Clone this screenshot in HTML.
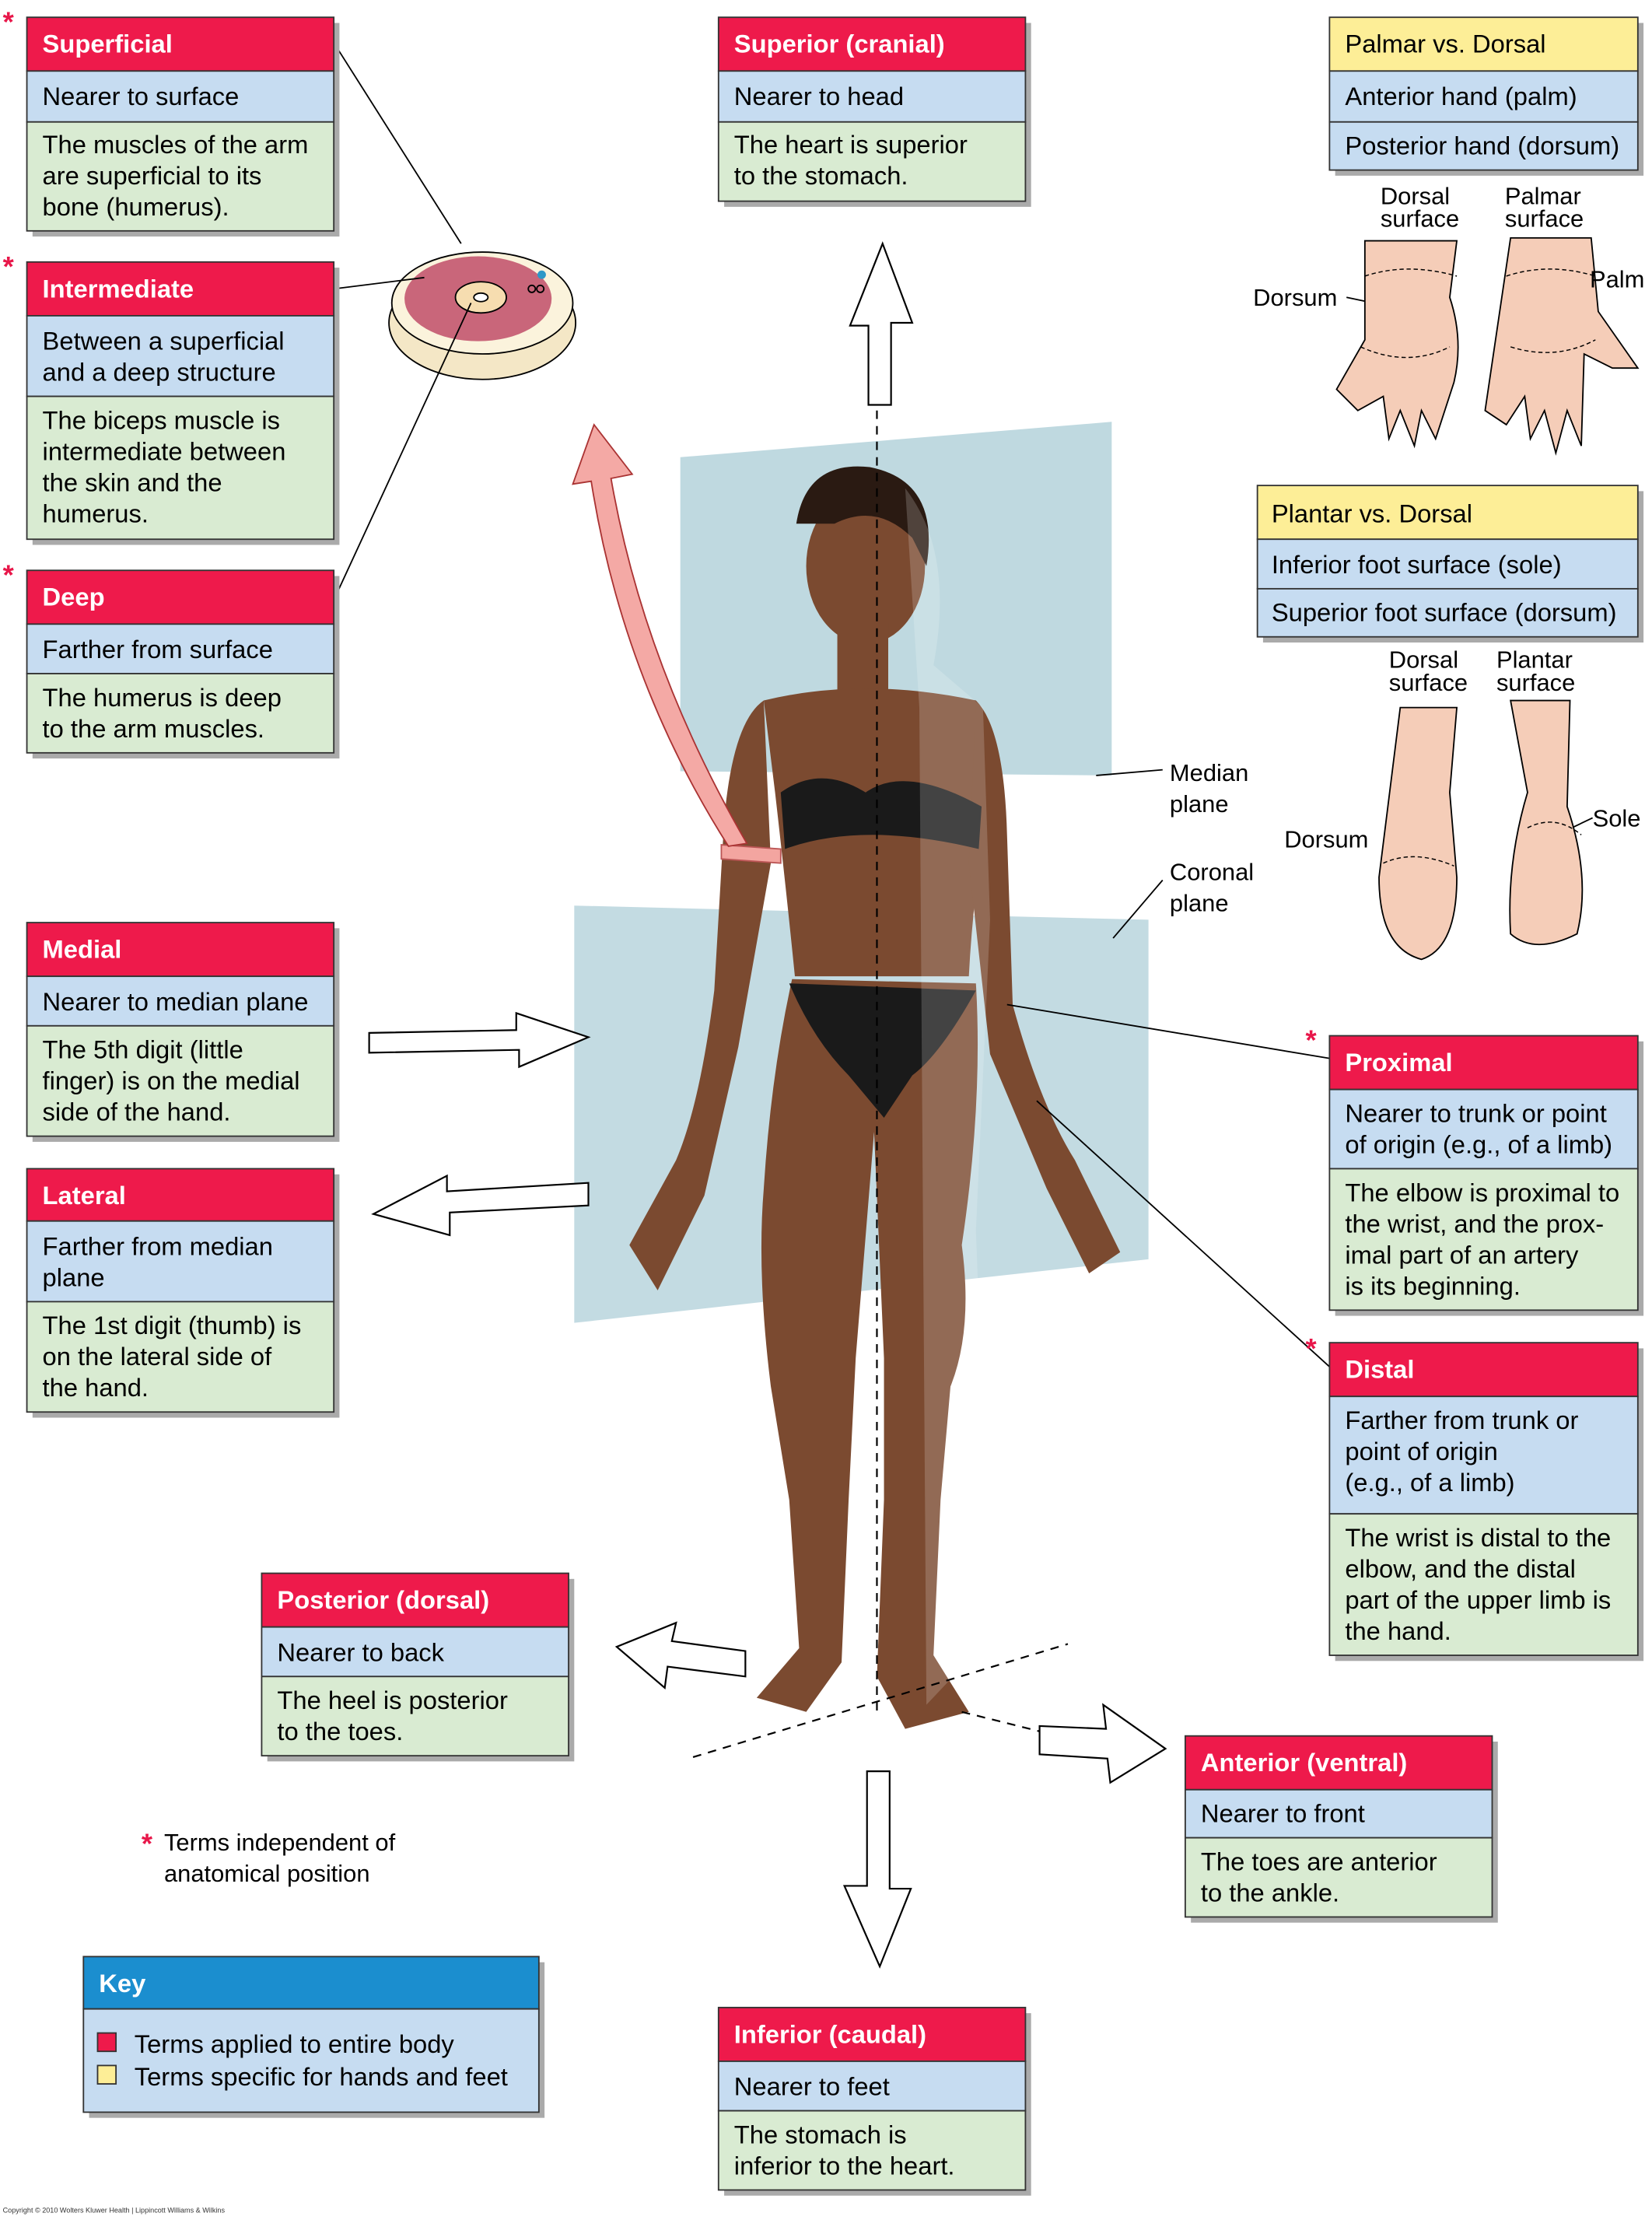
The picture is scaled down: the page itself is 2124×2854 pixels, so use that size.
<!DOCTYPE html>
<html><head><meta charset="utf-8"><style>
html,body{margin:0;padding:0;background:#fff}
svg{display:block}
text{font-family:"Liberation Sans",Arial,sans-serif}
</style></head><body>
<svg width="2124" height="2854" viewBox="0 0 1168 1569" xmlns="http://www.w3.org/2000/svg">
<rect width="1168" height="1569" fill="#fff"/>

<!-- planes -->
<polygon points="481,323 786,298 786,548 481,545" fill="#a9ccd6" opacity="0.75"/>
<polygon points="406,640 812,650 812,890 406,935" fill="#a9ccd6" opacity="0.7"/>

<!-- body silhouette -->
<g fill="#7b4a30">
<ellipse cx="612" cy="400" rx="42" ry="55"/>
<rect x="592" y="440" width="36" height="50"/>
<path d="M540,495 Q610,478 690,495 L700,560 Q688,630 685,690 L562,690 Q556,630 548,560 Z"/>
<path d="M540,495 Q518,510 512,580 L505,700 Q495,780 478,820 L445,880 L465,912 L498,845 L522,740 L545,610 Z"/>
<path d="M690,495 Q710,515 712,590 L716,710 Q735,780 760,820 L792,885 L770,900 L740,840 L700,745 L685,610 Z"/>
<path d="M560,692 L690,695 Q695,780 680,880 Q688,940 672,980 L665,1060 L660,1170 L685,1210 L640,1222 L620,1185 L625,1060 L625,960 L618,800 L605,960 L600,1060 L595,1175 L570,1210 L535,1200 L565,1165 L558,1060 L545,980 Q535,900 540,840 Q545,760 560,692 Z"/>
</g>
<path d="M563,370 Q570,325 615,330 Q665,340 655,400 L645,380 Q620,355 590,370 Z" fill="#2a1a12"/>
<path d="M555,600 Q610,580 692,600 L694,570 Q640,540 612,560 Q580,540 552,560 Z" fill="#1a1a1a"/>
<path d="M558,695 L690,700 Q665,745 645,760 L625,790 L600,760 Q575,735 558,695 Z" fill="#1a1a1a"/>
<path d="M640,345 Q675,390 660,470 L695,500 L700,650 L690,870 L695,1000 L688,1170 L655,1205 L650,500 Z" fill="#ffffff" opacity="0.18"/>

<!-- dashed lines -->
<line x1="620" y1="290" x2="620" y2="1210" stroke="#000" stroke-dasharray="6,5" stroke-width="1.2"/>
<line x1="490" y1="1242" x2="755" y2="1162" stroke="#000" stroke-dasharray="6,5" stroke-width="1.2"/>
<line x1="680" y1="1210" x2="740" y2="1225" stroke="#000" stroke-dasharray="6,5" stroke-width="1.2"/>

<!-- armband and pink arrow -->
<path d="M510,597 L552,600 L552,610 L510,607 Z" fill="#f3a5a0" stroke="#b55" stroke-width="1"/>
<path d="M515,598 Q440,480 418,340 L405,342 L420,300 L447,335 L432,338 Q455,470 528,596 Z" fill="#f4a9a5" stroke="#a33" stroke-width="1"/>

<!-- up arrow -->
<path d="M614,286 L614,230 L601,230 L624,172 L645,228 L630,228 L630,286 Z" fill="#fff" stroke="#000" stroke-width="1.2"/>
<!-- down arrow -->
<path d="M613,1252 L629,1252 L629,1335 L644,1335 L622,1390 L597,1333 L613,1333 Z" fill="#fff" stroke="#000" stroke-width="1.2"/>
<!-- medial arrow -->
<path d="M261,730 L365,728 L365,716 L416,733 L367,754 L367,742 L261,744 Z" fill="#fff" stroke="#000" stroke-width="1.2"/>
<!-- lateral arrow -->
<path d="M416,836 L316,842 L316,831 L264,858 L318,873 L318,857 L416,852 Z" fill="#fff" stroke="#000" stroke-width="1.2"/>
<!-- posterior arrow -->
<path d="M527,1167 L475,1160 L478,1147 L436,1164 L470,1193 L472,1178 L527,1185 Z" fill="#fff" stroke="#000" stroke-width="1.2"/>
<!-- anterior arrow -->
<path d="M735,1220 L782,1222 L780,1205 L824,1236 L785,1260 L783,1243 L735,1240 Z" fill="#fff" stroke="#000" stroke-width="1.2"/>

<!-- arm cross section -->
<g>
<ellipse cx="341" cy="228" rx="66" ry="40" fill="#f4e7c6" stroke="#000"/>
<ellipse cx="341" cy="214" rx="64" ry="36" fill="#fbf3dc" stroke="#000"/>
<ellipse cx="338" cy="211" rx="52" ry="30" fill="#c9667a"/>
<ellipse cx="340" cy="210" rx="18" ry="11" fill="#f6ddb0" stroke="#000"/>
<ellipse cx="340" cy="210" rx="5" ry="3" fill="#fff" stroke="#000"/>
<circle cx="383" cy="194" r="3" fill="#2d98c8"/>
<circle cx="376" cy="204" r="2.5" fill="none" stroke="#000"/>
<circle cx="382" cy="204" r="2.5" fill="none" stroke="#000"/>
</g>
<g stroke="#000" stroke-width="1" fill="none">
<line x1="236" y1="30" x2="326" y2="172"/>
<line x1="236" y1="204" x2="300" y2="196"/>
<line x1="236" y1="424" x2="333" y2="214"/>
<line x1="775" y1="548" x2="822" y2="544"/>
<line x1="787" y1="663" x2="822" y2="622"/>
<line x1="712" y1="710" x2="940" y2="748"/>
<line x1="733" y1="778" x2="940" y2="966"/>
<line x1="952" y1="210" x2="990" y2="218"/>
<line x1="1090" y1="232" x2="1120" y2="200"/>
<line x1="1000" y1="595" x2="1015" y2="608"/>
<line x1="1105" y1="588" x2="1126" y2="578"/>
</g>

<!-- hands -->
<g fill="#f5cdb8" stroke="#000" stroke-width="1">
<path d="M965,170 L1030,170 L1025,210 Q1035,240 1028,270 L1015,310 L1005,290 L1000,315 L990,290 L982,310 L978,280 L960,290 L945,275 L965,240 Z"/>
<path d="M1068,168 L1125,168 L1130,220 L1158,260 L1140,260 L1120,250 L1118,315 L1108,290 L1100,320 L1092,290 L1082,310 L1078,280 L1065,300 L1050,290 Z"/>
<path d="M990,500 L1030,500 L1025,560 L1030,620 Q1030,670 1005,678 Q975,670 975,620 Z"/>
<path d="M1068,495 L1110,495 L1108,570 Q1125,620 1115,660 Q1085,675 1068,660 Q1065,610 1080,560 Z"/>
</g>
<g stroke="#000" stroke-width="0.8" fill="none" stroke-dasharray="3,2">
<path d="M965,195 Q995,185 1030,195"/><path d="M962,245 Q995,260 1025,245"/>
<path d="M1065,195 Q1095,185 1128,195"/><path d="M1068,245 Q1100,255 1128,240"/>
<path d="M978,610 Q1000,600 1028,612"/><path d="M1080,585 Q1100,575 1118,590"/>
</g>

<!-- text labels free -->
<g font-size="17" fill="#000">
<text x="976" y="144">Dorsal</text><text x="976" y="160">surface</text>
<text x="1064" y="144">Palmar</text><text x="1064" y="160">surface</text>
<text x="886" y="216">Dorsum</text>
<text x="1124" y="203">Palm</text>
<text x="982" y="472">Dorsal</text><text x="982" y="488">surface</text>
<text x="1058" y="472">Plantar</text><text x="1058" y="488">surface</text>
<text x="908" y="599">Dorsum</text>
<text x="1126" y="584">Sole</text>
<text x="827" y="552">Median</text><text x="827" y="574">plane</text>
<text x="827" y="622">Coronal</text><text x="827" y="644">plane</text>
<text x="116" y="1308">Terms independent of</text>
<text x="116" y="1330">anatomical position</text>
</g>
<g fill="#e8174a" font-size="20" font-weight="bold">
<text x="2" y="22">*</text><text x="2" y="195">*</text><text x="2" y="413">*</text>
<text x="923" y="742">*</text><text x="923" y="960">*</text><text x="100" y="1310">*</text>
</g>
<text x="2" y="1564" font-size="5" fill="#333">Copyright © 2010 Wolters Kluwer Health | Lippincott Williams &amp; Wilkins</text>

<g font-size="18" fill="#000" stroke="none">
<!-- Superficial -->
<rect x="23" y="16" width="217" height="151" fill="#aaa"/>
<rect x="19" y="12" width="217" height="38" fill="#ee1a4b" stroke="#333"/>
<rect x="19" y="50" width="217" height="36" fill="#c6dcf1" stroke="#333"/>
<rect x="19" y="86" width="217" height="77" fill="#d9ebd2" stroke="#333"/>
<text x="30" y="37" fill="#fff" font-weight="bold">Superficial</text>
<text x="30" y="74">Nearer to surface</text>
<text x="30" y="108">The muscles of the arm</text><text x="30" y="130">are superficial to its</text><text x="30" y="152">bone (humerus).</text>
<!-- Intermediate -->
<rect x="23" y="189" width="217" height="196" fill="#aaa"/>
<rect x="19" y="185" width="217" height="38" fill="#ee1a4b" stroke="#333"/>
<rect x="19" y="223" width="217" height="57" fill="#c6dcf1" stroke="#333"/>
<rect x="19" y="280" width="217" height="101" fill="#d9ebd2" stroke="#333"/>
<text x="30" y="210" fill="#fff" font-weight="bold">Intermediate</text>
<text x="30" y="247">Between a superficial</text><text x="30" y="269">and a deep structure</text>
<text x="30" y="303">The biceps muscle is</text><text x="30" y="325">intermediate between</text><text x="30" y="347">the skin and the</text><text x="30" y="369">humerus.</text>
<!-- Deep -->
<rect x="23" y="407" width="217" height="129" fill="#aaa"/>
<rect x="19" y="403" width="217" height="38" fill="#ee1a4b" stroke="#333"/>
<rect x="19" y="441" width="217" height="35" fill="#c6dcf1" stroke="#333"/>
<rect x="19" y="476" width="217" height="56" fill="#d9ebd2" stroke="#333"/>
<text x="30" y="428" fill="#fff" font-weight="bold">Deep</text>
<text x="30" y="465">Farther from surface</text>
<text x="30" y="499">The humerus is deep</text><text x="30" y="521">to the arm muscles.</text>
<!-- Superior -->
<rect x="512" y="16" width="217" height="130" fill="#aaa"/>
<rect x="508" y="12" width="217" height="38" fill="#ee1a4b" stroke="#333"/>
<rect x="508" y="50" width="217" height="36" fill="#c6dcf1" stroke="#333"/>
<rect x="508" y="86" width="217" height="56" fill="#d9ebd2" stroke="#333"/>
<text x="519" y="37" fill="#fff" font-weight="bold">Superior (cranial)</text>
<text x="519" y="74">Nearer to head</text>
<text x="519" y="108">The heart is superior</text><text x="519" y="130">to the stomach.</text>
<!-- Palmar -->
<rect x="944" y="16" width="218" height="108" fill="#aaa"/>
<rect x="940" y="12" width="218" height="38" fill="#fdee97" stroke="#333"/>
<rect x="940" y="50" width="218" height="36" fill="#c6dcf1" stroke="#333"/>
<rect x="940" y="86" width="218" height="34" fill="#c6dcf1" stroke="#333"/>
<text x="951" y="37">Palmar vs. Dorsal</text>
<text x="951" y="74">Anterior hand (palm)</text>
<text x="951" y="109">Posterior hand (dorsum)</text>
<!-- Plantar -->
<rect x="893" y="347" width="269" height="107" fill="#aaa"/>
<rect x="889" y="343" width="269" height="38" fill="#fdee97" stroke="#333"/>
<rect x="889" y="381" width="269" height="35" fill="#c6dcf1" stroke="#333"/>
<rect x="889" y="416" width="269" height="34" fill="#c6dcf1" stroke="#333"/>
<text x="899" y="369">Plantar vs. Dorsal</text>
<text x="899" y="405">Inferior foot surface (sole)</text>
<text x="899" y="439">Superior foot surface (dorsum)</text>
<!-- Medial -->
<rect x="23" y="656" width="217" height="151" fill="#aaa"/>
<rect x="19" y="652" width="217" height="38" fill="#ee1a4b" stroke="#333"/>
<rect x="19" y="690" width="217" height="35" fill="#c6dcf1" stroke="#333"/>
<rect x="19" y="725" width="217" height="78" fill="#d9ebd2" stroke="#333"/>
<text x="30" y="677" fill="#fff" font-weight="bold">Medial</text>
<text x="30" y="714">Nearer to median plane</text>
<text x="30" y="748">The 5th digit (little</text><text x="30" y="770">finger) is on the medial</text><text x="30" y="792">side of the hand.</text>
<!-- Lateral -->
<rect x="23" y="830" width="217" height="172" fill="#aaa"/>
<rect x="19" y="826" width="217" height="37" fill="#ee1a4b" stroke="#333"/>
<rect x="19" y="863" width="217" height="57" fill="#c6dcf1" stroke="#333"/>
<rect x="19" y="920" width="217" height="78" fill="#d9ebd2" stroke="#333"/>
<text x="30" y="851" fill="#fff" font-weight="bold">Lateral</text>
<text x="30" y="887">Farther from median</text><text x="30" y="909">plane</text>
<text x="30" y="943">The 1st digit (thumb) is</text><text x="30" y="965">on the lateral side of</text><text x="30" y="987">the hand.</text>
<!-- Proximal -->
<rect x="944" y="736" width="218" height="194" fill="#aaa"/>
<rect x="940" y="732" width="218" height="38" fill="#ee1a4b" stroke="#333"/>
<rect x="940" y="770" width="218" height="56" fill="#c6dcf1" stroke="#333"/>
<rect x="940" y="826" width="218" height="100" fill="#d9ebd2" stroke="#333"/>
<text x="951" y="757" fill="#fff" font-weight="bold">Proximal</text>
<text x="951" y="793">Nearer to trunk or point</text><text x="951" y="815">of origin (e.g., of a limb)</text>
<text x="951" y="849">The elbow is proximal to</text><text x="951" y="871">the wrist, and the prox-</text><text x="951" y="893">imal part of an artery</text><text x="951" y="915">is its beginning.</text>
<!-- Distal -->
<rect x="944" y="953" width="218" height="221" fill="#aaa"/>
<rect x="940" y="949" width="218" height="38" fill="#ee1a4b" stroke="#333"/>
<rect x="940" y="987" width="218" height="83" fill="#c6dcf1" stroke="#333"/>
<rect x="940" y="1070" width="218" height="100" fill="#d9ebd2" stroke="#333"/>
<text x="951" y="974" fill="#fff" font-weight="bold">Distal</text>
<text x="951" y="1010">Farther from trunk or</text><text x="951" y="1032">point of origin</text><text x="951" y="1054">(e.g., of a limb)</text>
<text x="951" y="1093">The wrist is distal to the</text><text x="951" y="1115">elbow, and the distal</text><text x="951" y="1137">part of the upper limb is</text><text x="951" y="1159">the hand.</text>
<!-- Posterior -->
<rect x="189" y="1116" width="217" height="129" fill="#aaa"/>
<rect x="185" y="1112" width="217" height="38" fill="#ee1a4b" stroke="#333"/>
<rect x="185" y="1150" width="217" height="35" fill="#c6dcf1" stroke="#333"/>
<rect x="185" y="1185" width="217" height="56" fill="#d9ebd2" stroke="#333"/>
<text x="196" y="1137" fill="#fff" font-weight="bold">Posterior (dorsal)</text>
<text x="196" y="1174">Nearer to back</text>
<text x="196" y="1208">The heel is posterior</text><text x="196" y="1230">to the toes.</text>
<!-- Anterior -->
<rect x="842" y="1231" width="217" height="128" fill="#aaa"/>
<rect x="838" y="1227" width="217" height="38" fill="#ee1a4b" stroke="#333"/>
<rect x="838" y="1265" width="217" height="34" fill="#c6dcf1" stroke="#333"/>
<rect x="838" y="1299" width="217" height="56" fill="#d9ebd2" stroke="#333"/>
<text x="849" y="1252" fill="#fff" font-weight="bold">Anterior (ventral)</text>
<text x="849" y="1288">Nearer to front</text>
<text x="849" y="1322">The toes are anterior</text><text x="849" y="1344">to the ankle.</text>
<!-- Inferior -->
<rect x="512" y="1423" width="217" height="129" fill="#aaa"/>
<rect x="508" y="1419" width="217" height="38" fill="#ee1a4b" stroke="#333"/>
<rect x="508" y="1457" width="217" height="35" fill="#c6dcf1" stroke="#333"/>
<rect x="508" y="1492" width="217" height="56" fill="#d9ebd2" stroke="#333"/>
<text x="519" y="1444" fill="#fff" font-weight="bold">Inferior (caudal)</text>
<text x="519" y="1481">Nearer to feet</text>
<text x="519" y="1515">The stomach is</text><text x="519" y="1537">inferior to the heart.</text>
<!-- Key -->
<rect x="63" y="1387" width="322" height="110" fill="#aaa"/>
<rect x="59" y="1383" width="322" height="37" fill="#1b8ecf" stroke="#333"/>
<rect x="59" y="1420" width="322" height="73" fill="#c6dcf1" stroke="#333"/>
<text x="70" y="1408" fill="#fff" font-weight="bold">Key</text>
<rect x="69" y="1437" width="13" height="13" fill="#ee1a4b" stroke="#333"/>
<rect x="69" y="1460" width="13" height="13" fill="#fdee97" stroke="#333"/>
<text x="95" y="1451">Terms applied to entire body</text>
<text x="95" y="1474">Terms specific for hands and feet</text>
</g>
</svg>
</body></html>
